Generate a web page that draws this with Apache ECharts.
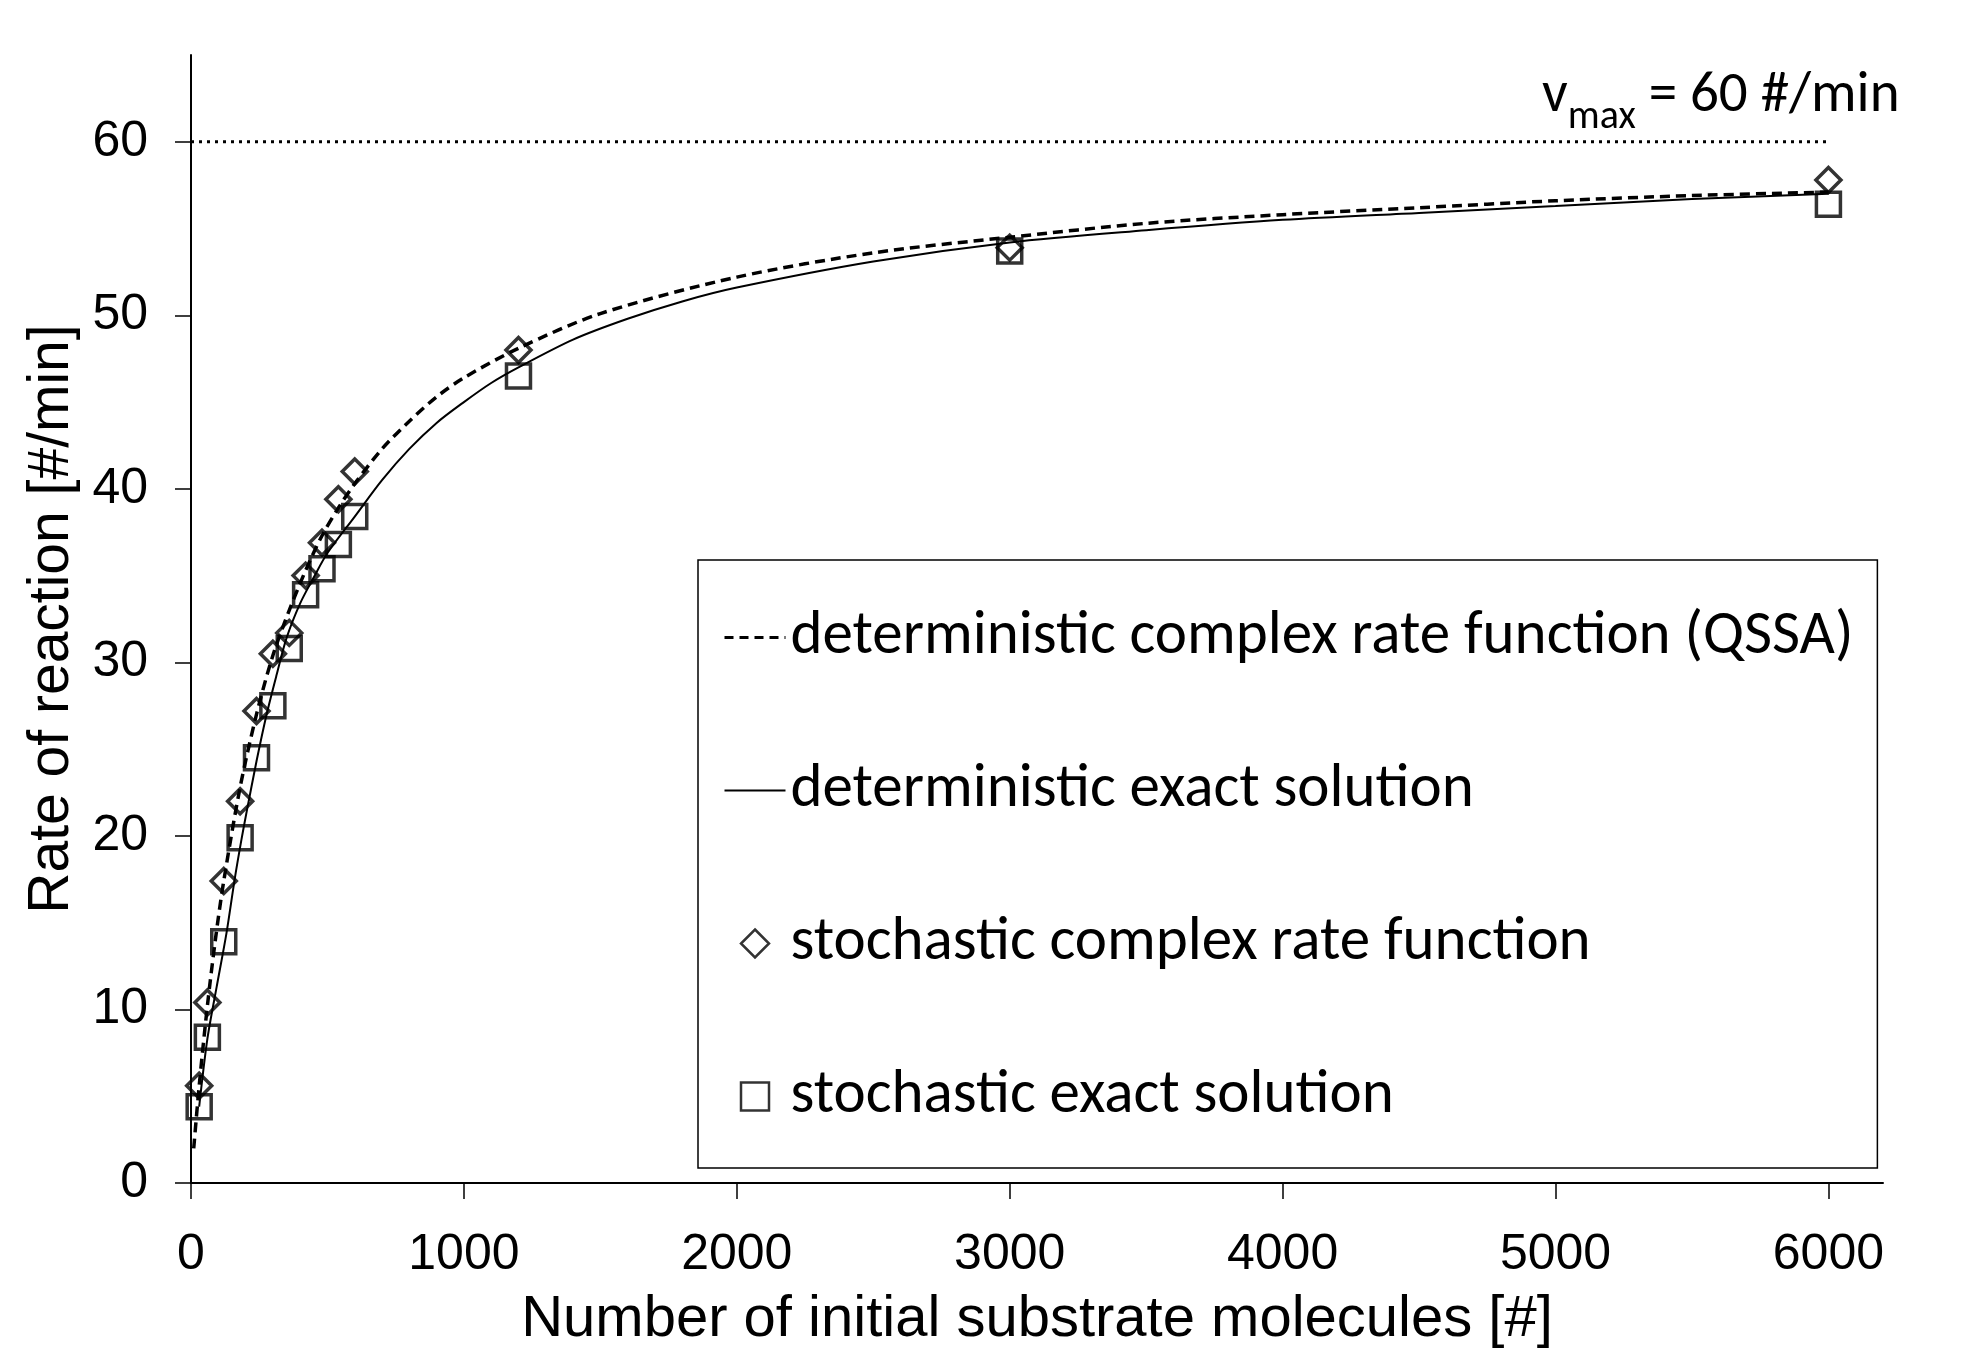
<!DOCTYPE html>
<html>
<head>
<meta charset="utf-8">
<title>Rate of reaction</title>
<script src="https://cdn.jsdelivr.net/npm/echarts@6/dist/echarts.min.js"></script>
<style>
  html, body { margin: 0; padding: 0; background: #fff; }
  #chart { width: 1962px; height: 1357px; }
</style>
</head>
<body>
<div id="chart"></div>
<script>
// tick labels
var xTicks = [0, 1000, 2000, 3000, 4000, 5000, 6000];
var yTicks = [0, 10, 20, 30, 40, 50, 60];

// deterministic complex rate function (QSSA)
var qssaCurve = [
  [10, 2.0], [30, 5.6], [60, 10.2], [90, 14.1], [120, 17.4], [180, 22.8],
  [240, 27.0], [300, 30.4], [360, 33.0], [420, 35.3], [480, 37.3], [540, 38.9],
  [600, 40.3], [700, 42.3], [800, 43.9], [900, 45.3], [1000, 46.4], [1200, 48.1],
  [1500, 50.1], [2000, 52.2], [2500, 53.6], [3000, 54.5], [3500, 55.3],
  [4000, 55.8], [4500, 56.2], [5000, 56.6], [5500, 56.9], [6000, 57.1]
];

// deterministic exact solution
var exactCurve = [
  [30, 4.4], [60, 8.3], [94, 11.3], [130, 14.4], [160, 17.5], [185, 19.8],
  [204, 21.4], [240, 24.3], [277, 27.0], [314, 29.3], [350, 31.4], [400, 33.4],
  [450, 34.9], [500, 36.3], [600, 38.4], [700, 40.5], [800, 42.3], [900, 43.8],
  [1000, 45.0], [1100, 46.1], [1200, 47.0], [1400, 48.6], [1600, 49.8],
  [1800, 50.8], [2000, 51.6], [2500, 53.1], [3000, 54.2], [3500, 54.9],
  [4000, 55.5], [4500, 55.9], [5000, 56.3], [5500, 56.7], [6000, 57.0]
];

// stochastic complex rate function (diamonds)
var stochQssa = [
  [30, 5.6], [60, 10.4], [120, 17.4], [180, 22.0], [240, 27.2], [300, 30.5],
  [360, 31.7], [420, 35.0], [480, 36.9], [540, 39.4], [600, 41.0], [1200, 48.0],
  [3000, 53.9], [6000, 57.8]
];

// stochastic exact solution (squares)
var stochExact = [
  [30, 4.4], [60, 8.4], [120, 13.9], [180, 19.9], [240, 24.5], [300, 27.5],
  [360, 30.8], [420, 33.9], [480, 35.4], [540, 36.8], [600, 38.4], [1200, 46.5],
  [3000, 53.7], [6000, 56.4]
];

// v_max reference line
var vmaxLine = [[0, 60], [6000, 60]];

var arial = "'Liberation Sans', Arial, sans-serif";
var calibri = "Carlito, Lato, sans-serif";

var noMarker = { color: 'rgba(0,0,0,0)', borderColor: 'rgba(0,0,0,0)', borderWidth: 0 };
var hollow = { color: 'rgba(0,0,0,0)', borderColor: '#000', borderWidth: 2.5 };

var chart = echarts.init(document.getElementById('chart'));

var option = {
  animation: false,
  backgroundColor: '#fff',
  grid: {
    left: 191,
    right: 79,
    top: 55,
    bottom: 174
  },
  legend: {
    orient: 'vertical',
    left: 698,
    top: 560,
    padding: [47, 24, 41, 25],
    itemGap: 92,
    itemWidth: 61,
    itemHeight: 28,
    borderColor: '#000',
    borderWidth: 1.5,
    textStyle: {
      fontFamily: calibri,
      fontSize: 61,
      lineHeight: 60,
      color: '#000'
    },
    data: [
      {
        name: 'deterministic complex rate function (QSSA)',
        itemStyle: noMarker,
        lineStyle: { width: 3, type: [9, 6] }
      },
      { name: 'deterministic exact solution', itemStyle: noMarker },
      {
        name: 'stochastic complex rate function',
        icon: 'path://M12,0L24,12L12,24L0,12Z',
        itemStyle: hollow
      },
      {
        name: 'stochastic exact solution',
        icon: 'path://M0,0L24,0L24,24L0,24Z',
        itemStyle: hollow
      }
    ]
  },
  xAxis: {
    type: 'value',
    min: 0,
    max: 6200,
    interval: 1000,
    name: 'Number of initial substrate molecules [#]',
    nameLocation: 'middle',
    nameGap: 108,
    nameTextStyle: { fontFamily: arial, fontSize: 58, color: '#000' },
    splitLine: { show: false },
    axisLine: { onZero: false, lineStyle: { color: '#000', width: 2 } },
    axisTick: {
      length: 16,
      customValues: xTicks,
      lineStyle: { color: '#000', width: 1.5 }
    },
    axisLabel: {
      customValues: xTicks,
      margin: 47,
      fontFamily: arial,
      fontSize: 50,
      color: '#000',
      formatter: function (v) { return String(v); }
    }
  },
  yAxis: {
    type: 'value',
    min: 0,
    max: 65,
    interval: 10,
    name: 'Rate of reaction [#/min]',
    nameLocation: 'middle',
    nameGap: 110,
    nameTextStyle: { fontFamily: arial, fontSize: 57, color: '#000' },
    splitLine: { show: false },
    axisLine: { show: true, lineStyle: { color: '#000', width: 2 } },
    axisTick: {
      show: true,
      length: 16,
      customValues: yTicks,
      lineStyle: { color: '#000', width: 1.5 }
    },
    axisLabel: {
      customValues: yTicks,
      margin: 43,
      fontFamily: arial,
      fontSize: 50,
      color: '#000',
      formatter: function (v) { return String(v); }
    }
  },
  graphic: [
    {
      type: 'text',
      left: 1542,
      top: 68,
      style: {
        text: '{v|v}{s|max}{t| = 60 #/min}',
        fill: '#000',
        rich: {
          v: { fontFamily: calibri, fontSize: 57, lineHeight: 70, verticalAlign: 'top', fill: '#000' },
          s: { fontFamily: calibri, fontSize: 40, lineHeight: 34, verticalAlign: 'bottom', fill: '#000' },
          t: { fontFamily: calibri, fontSize: 57, lineHeight: 70, verticalAlign: 'top', fill: '#000' }
        }
      }
    }
  ],
  series: [
    {
      name: 'vmax',
      type: 'line',
      data: vmaxLine,
      symbol: 'none',
      silent: true,
      lineStyle: { color: '#000', width: 3, type: [3, 5], cap: 'butt' },
      z: 1
    },
    {
      name: 'deterministic complex rate function (QSSA)',
      type: 'line',
      data: qssaCurve,
      symbol: 'none',
      smooth: 0.3,
      lineStyle: { color: '#000', width: 3.5, type: [10, 6] },
      itemStyle: { color: '#000' },
      z: 2
    },
    {
      name: 'deterministic exact solution',
      type: 'line',
      data: exactCurve,
      symbol: 'none',
      smooth: 0.3,
      lineStyle: { color: '#000', width: 2 },
      itemStyle: { color: '#000' },
      z: 2
    },
    {
      name: 'stochastic complex rate function',
      type: 'scatter',
      data: stochQssa,
      symbol: 'diamond',
      symbolSize: 25,
      itemStyle: { color: 'rgba(0,0,0,0)', borderColor: '#000', borderWidth: 3.5 },
      z: 3
    },
    {
      name: 'stochastic exact solution',
      type: 'scatter',
      data: stochExact,
      symbol: 'rect',
      symbolSize: 24,
      itemStyle: { color: 'rgba(0,0,0,0)', borderColor: '#000', borderWidth: 3.5 },
      z: 3
    }
  ]
};

chart.setOption(option);
</script>
</body>
</html>
